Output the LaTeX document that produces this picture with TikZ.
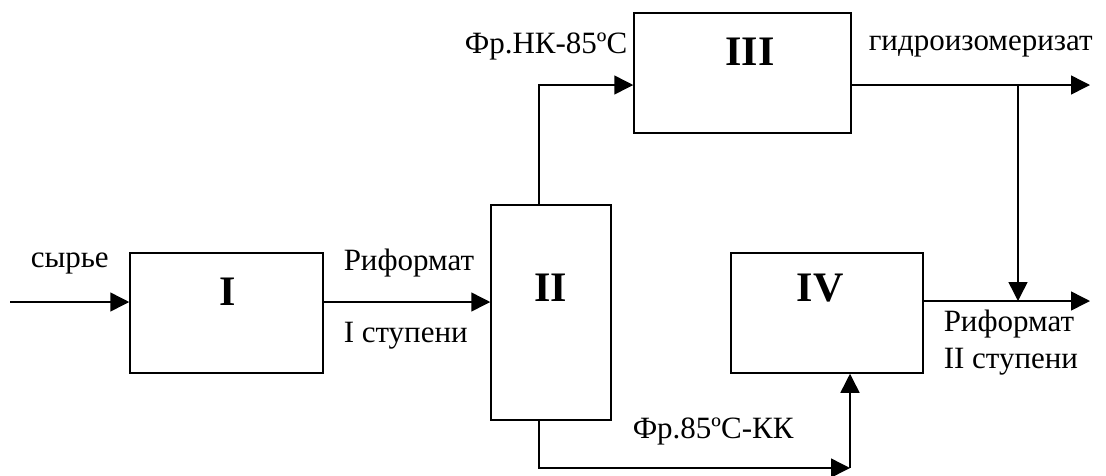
\documentclass[tikz,border=0pt]{standalone}
\usepackage{fontspec}
\setmainfont{Liberation Serif}
\usetikzlibrary{arrows.meta}
\begin{document}
\begin{tikzpicture}[x=1pt,y=-1pt,
  line width=1.5pt,
  blk/.style={draw, line width=1.5pt, inner sep=0pt},
  num/.style={font=\fontsize{42}{42}\selectfont\bfseries, inner sep=0pt},
  lbl/.style={font=\fontsize{31}{34}\selectfont, inner sep=0pt},
  arr/.style={-{Triangle[length=19pt,width=19pt]}}]
\useasboundingbox (0,0) rectangle (1106,475);

% units
\node[blk, minimum width=193pt, minimum height=120pt] (b1) at (226.5,313) {};
\node[blk, minimum width=120pt, minimum height=215pt] (b2) at (551,312.5) {};
\node[blk, minimum width=217pt, minimum height=120pt] (b3) at (742.5,73) {};
\node[blk, minimum width=192pt, minimum height=120pt] (b4) at (827,313) {};

\node[num] (n1) at (228,292) {I};
\node[num] (n2) at (551,288) {II};
\node[num] (n3) at (750,52) {III};
\node[num] (n4) at (820,288) {IV};

% stream ends and bends
\coordinate (in) at (10,302);
\coordinate (up) at (539,85);
\coordinate (down) at (539,468);
\coordinate (turn) at (850,468);
\coordinate (out3) at (1090,85);
\coordinate (out4) at (1090,301);
\coordinate (tap) at (1018,85);

% streams
\draw[arr] (in) -- (in -| b1.west);
\draw[arr] (b1.east |- in) -- (b2.west |- in);
\draw[arr] (b2.north -| up) -- (up) -- (b3.west |- up);
\draw[arr] (b2.south -| down) -- (down) -- (turn);
\draw[arr] (turn) -- (b4.south -| turn);
\draw[arr] (b3.east |- out3) -- (out3);
\draw[arr] (tap) -- (tap |- out4);
\draw[arr] (b4.east |- out4) -- (out4);

% stream labels
\node[lbl, anchor=west] (l1) at (30,263) {сырье};
\node[lbl, anchor=west] (l2) at (343,263) {Риформат};
\node[lbl, anchor=west] (l3) at (343,336) {I ступени};
\node[lbl, anchor=east] (l4) at (628,46) {Фр.НК-85ºC};
\node[lbl, anchor=west] (l5) at (868,46) {гидроизомеризат};
\node[lbl, anchor=west] (l6) at (632,431) {Фр.85ºC-КК};
\node[lbl, anchor=west] (l7) at (943,324) {Риформат};
\node[lbl, anchor=west] (l8) at (943,362) {II ступени};
\end{tikzpicture}
\end{document}
